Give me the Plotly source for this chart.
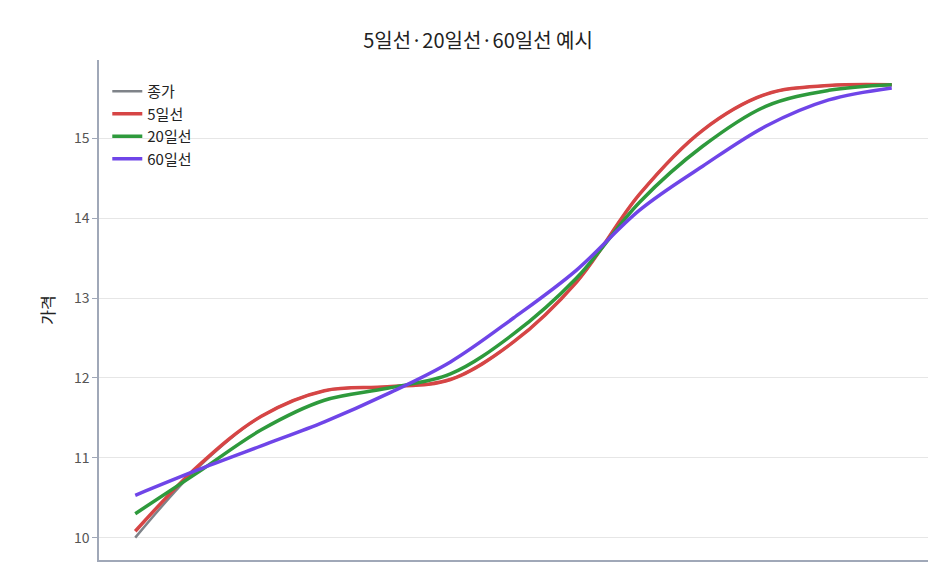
import plotly.graph_objects as go

x = list(range(13))
close = [10.0, 10.88, 11.52, 11.84, 11.89, 11.98, 12.45, 13.2, 14.3, 15.1, 15.55, 15.66, 15.67]
ma5 = [10.08, 10.9, 11.52, 11.84, 11.89, 11.98, 12.45, 13.2, 14.3, 15.1, 15.55, 15.66, 15.67]
ma20 = [10.3, 10.82, 11.35, 11.72, 11.87, 12.05, 12.55, 13.25, 14.2, 14.9, 15.4, 15.6, 15.67]
ma60 = [10.53, 10.85, 11.15, 11.45, 11.8, 12.2, 12.75, 13.35, 14.1, 14.65, 15.15, 15.48, 15.63]

series = [("종가", close, "#7f8389", 2.5), ("5일선", ma5, "#d64545", 3.5),
          ("20일선", ma20, "#2e9a3c", 3.5), ("60일선", ma60, "#6f45e8", 3.5)]

fig = go.Figure()
for name, y, c, w in series:
    fig.add_trace(go.Scatter(x=x, y=y, name=name, mode="lines",
                             line=dict(color=c, width=w, shape="spline", smoothing=1.0)))

fig.update_layout(
    width=940, height=580,
    font=dict(family="Noto Sans CJK KR", size=14, color="#222"),
    title=dict(text="5일선·20일선·60일선 예시", x=0.5, xanchor="center", y=0.955, font=dict(size=20)),
    plot_bgcolor="white", paper_bgcolor="white",
    margin=dict(l=91, r=20, t=52, b=28),
    showlegend=True,
    legend=dict(x=0.01, y=0.97, xanchor="left", yanchor="top", bgcolor="rgba(0,0,0,0)", font=dict(size=15)),
    xaxis=dict(range=[-0.575, 12.575], showticklabels=False, showgrid=False, zeroline=False,
               showline=True, linecolor="#a0a8b8", linewidth=1.5),
    yaxis=dict(range=[9.72, 15.98], tickvals=[10, 11, 12, 13, 14, 15], showgrid=True,
               gridcolor="#e6e6e6", zeroline=False, showline=True, linecolor="#a0a8b8",
               linewidth=1.5, ticks="outside", tickcolor="#a0a8b8", ticklen=5,
               tickfont=dict(color="#555", size=14),
               title=dict(text="가격", font=dict(size=16))),
)
fig.write_html("out.html")
